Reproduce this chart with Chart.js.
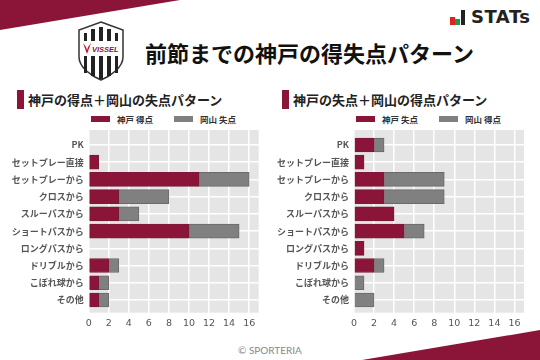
<!DOCTYPE html>
<html lang="ja">

<head>
    <meta charset="UTF-8">
    <title>前節までの神戸の得失点パターン</title>
    <script src="https://cdn.jsdelivr.net/npm/chart.js"></script>
    <style>
        html,
        body {
            margin: 0;
            padding: 0;
            background: #fff;
        }

        body {
            position: relative;
            width: 540px;
            height: 360px;
            overflow: hidden;
            font-family: "Noto Sans CJK JP", sans-serif;
        }

        .abs {
            position: absolute;
            white-space: nowrap;
        }

        canvas {
            position: absolute;
        }

        #cornerTop {
            left: 0;
            top: 0;
            width: 180px;
            height: 30px;
            background: #8a1538;
            clip-path: polygon(0 0, 100% 0, 0 100%);
        }

        #cornerBottom {
            left: 362px;
            top: 330px;
            width: 178px;
            height: 30px;
            background: #8a1538;
            clip-path: polygon(100% 0, 100% 100%, 0 100%);
        }

        #mainTitle {
            left: 145px;
            top: 37px;
            font-size: 22px;
            line-height: 30px;
            font-weight: 700;
            color: #111;
        }

        .subTitle {
            top: 90px;
            font-size: 13px;
            line-height: 19px;
            font-weight: 700;
            color: #222;
        }

        .subMark {
            top: 90px;
            width: 7px;
            height: 19px;
            background: #8a1538;
        }

        .swatch {
            top: 116px;
            width: 19px;
            height: 6px;
            border: 0;
        }

        .legendText {
            top: 113px;
            font-size: 8.5px;
            line-height: 13px;
            font-weight: 700;
            color: #333;
        }

        #copyright {
            left: 238px;
            top: 343px;
            font-family: Lato, sans-serif;
            font-size: 10px;
            line-height: 14px;
            color: #888;
        }

        #statsText {
            left: 471px;
            top: 6px;
            font-family: "DejaVu Sans", sans-serif;
            font-size: 18px;
            line-height: 22px;
            font-weight: 700;
            letter-spacing: 0.5px;
            color: #222;
        }
    </style>
</head>

<body>
    <div id="cornerTop" class="abs"></div>
    <div id="cornerBottom" class="abs"></div>

    <svg class="abs" style="left:78px;top:21px" width="46" height="60" viewBox="0 0 46 60">
        <path d="M23 1 L45 9 V36 C45 46 33 55 23 59 C13 55 1 46 1 36 V9 Z" fill="#fff" stroke="#333" stroke-width="1.5" />
        <path d="M6 12h3v40h-3zM13 8h4v47h-4zM21 6h4v52h-4zM29 8h4v47h-4zM37 12h3v40h-3z" fill="#222" />
        <rect x="2" y="20" width="42" height="15" fill="#fff" />
        <path d="M5 22 L9 33 L13 22 L10 26 L9 29 L8 26 Z" fill="#c8102e" />
        <text x="14" y="31" font-family="Liberation Sans" font-size="7.5" font-weight="700" font-style="italic" fill="#8a1538">VISSEL</text>
    </svg>

    <div id="mainTitle" class="abs">前節までの神戸の得失点パターン</div>

    <div class="abs" style="left:450px;top:17px;width:5px;height:8px;background:#e2231a"></div>
    <div class="abs" style="left:455px;top:19px;width:5px;height:6px;background:#1a9a4a"></div>
    <div class="abs" style="left:461px;top:10px;width:4px;height:15px;background:#222"></div>
    <div id="statsText" class="abs">STATs</div>

    <div class="abs subMark" style="left:17px"></div>
    <div class="abs subTitle" style="left:28px">神戸の得点＋岡山の失点パターン</div>
    <div class="abs subMark" style="left:282px"></div>
    <div class="abs subTitle" style="left:293px">神戸の失点＋岡山の得点パターン</div>

    <div class="abs swatch" id="swatchA1" style="left:91px"></div>
    <div class="abs legendText" id="legendA1" style="left:117px"></div>
    <div class="abs swatch" id="swatchA2" style="left:174px"></div>
    <div class="abs legendText" id="legendA2" style="left:200px"></div>
    <div class="abs swatch" id="swatchB1" style="left:356px"></div>
    <div class="abs legendText" id="legendB1" style="left:382px"></div>
    <div class="abs swatch" id="swatchB2" style="left:439px"></div>
    <div class="abs legendText" id="legendB2" style="left:465px"></div>

    <canvas id="chartLeft" width="270" height="210" style="left:0;top:125px"></canvas>
    <canvas id="chartRight" width="270" height="210" style="left:270px;top:125px"></canvas>

    <div id="copyright" class="abs">© SPORTERIA</div>

    <script>
        const categories = ['PK', 'セットプレー直接', 'セットプレーから', 'クロスから', 'スルーパスから',
            'ショートパスから', 'ロングパスから', 'ドリブルから', 'こぼれ球から', 'その他'];

        const kobeScored = [0, 1, 11, 3, 3, 10, 0, 2, 1, 1];
        const okayamaConceded = [0, 0, 5, 5, 2, 5, 0, 1, 1, 1];
        const kobeConceded = [2, 1, 3, 3, 4, 5, 1, 2, 0, 0];
        const okayamaScored = [1, 0, 6, 6, 0, 2, 0, 1, 1, 2];

        const RED = '#8a1538';
        const GRAY = '#808080';

        // 灰色の背景を描くだけのプラグイン
        const plotBackground = {
            id: 'plotBackground',
            beforeDraw(chart) {
                const a = chart.chartArea;
                chart.ctx.fillStyle = '#e5e5e5';
                chart.ctx.fillRect(a.left, a.top, a.right - a.left, a.bottom - a.top);
            }
        };

        function toPoints(values) {
            // 0は描かない
            return values.map((v, i) => ({ x: v === 0 ? null : v, y: i }));
        }

        function drawChart(id, labelA, valuesA, labelB, valuesB, leftWidth, rightPad) {
            new Chart(document.getElementById(id), {
                type: 'bar',
                data: {
                    datasets: [
                        { label: labelA, data: toPoints(valuesA), backgroundColor: RED, borderColor: '#7a1a38', borderWidth: 1, barThickness: 14 },
                        { label: labelB, data: toPoints(valuesB), backgroundColor: GRAY, borderColor: '#6a6a6a', borderWidth: 1, barThickness: 14 }
                    ]
                },
                plugins: [plotBackground],
                options: {
                    indexAxis: 'y',
                    responsive: false,
                    animation: false,
                    layout: { autoPadding: false, padding: { top: 5, right: rightPad, left: 0, bottom: 0 } },
                    plugins: { legend: { display: false }, tooltip: { enabled: false } },
                    scales: {
                        x: {
                            type: 'linear',
                            stacked: true,
                            bounds: 'data',
                            min: 0,
                            max: 16.95,
                            border: { display: false },
                            grid: { color: '#fff', lineWidth: 1.5, drawTicks: false },
                            ticks: {
                                stepSize: 2,
                                includeBounds: false,
                                padding: 5,
                                color: '#555',
                                font: { family: 'DejaVu Sans', size: 9.5 }
                            },
                            afterFit(scale) {
                                scale.height = 22.3;
                                scale.paddingLeft = 0;
                                scale.paddingRight = 0;
                            }
                        },
                        y: {
                            type: 'linear',
                            stacked: true,
                            reverse: true,
                            bounds: 'data',
                            offset: false,
                            min: -0.87,
                            max: 9.74,
                            border: { display: false },
                            grid: { color: '#fff', lineWidth: 1.5, drawTicks: false, offset: false },
                            ticks: {
                                autoSkip: false,
                                padding: 5,
                                color: '#555',
                                font: { family: 'Noto Sans CJK JP', size: 9, weight: 700 },
                                callback: (value) => categories[value]
                            },
                            // カテゴリの位置に目盛りを置く
                            afterBuildTicks(scale) { scale.ticks = categories.map((c, i) => ({ value: i })); },
                            afterFit(scale) {
                                scale.width = leftWidth;
                                scale.paddingTop = 0;
                                scale.paddingBottom = 0;
                            }
                        }
                    }
                }
            });
        }

        function setLegend(key, label, color) {
            document.getElementById('legend' + key).textContent = label;
            document.getElementById('swatch' + key).style.background = color;
        }

        setLegend('A1', '神戸 得点', RED);
        setLegend('A2', '岡山 失点', GRAY);
        setLegend('B1', '神戸 失点', RED);
        setLegend('B2', '岡山 得点', GRAY);

        drawChart('chartLeft', '神戸 得点', kobeScored, '岡山 失点', okayamaConceded, 88.7, 11.3);
        drawChart('chartRight', '神戸 失点', kobeConceded, '岡山 得点', okayamaScored, 84, 16);
    </script>
</body>

</html>
